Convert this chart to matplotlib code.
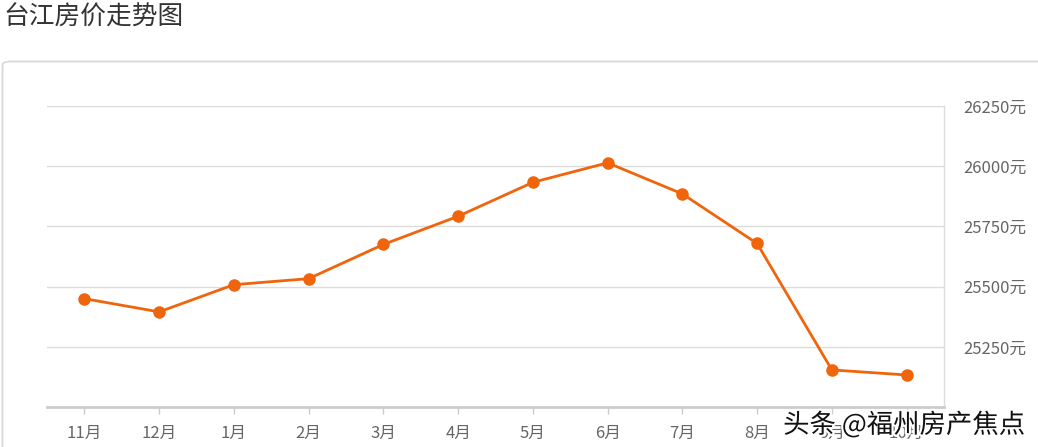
import matplotlib.pyplot as plt
import matplotlib.patheffects as pe
from matplotlib.patches import FancyBboxPatch

plt.rcParams['font.family'] = ['Noto Sans CJK SC', 'DejaVu Sans']

months = ['11月', '12月', '1月', '2月', '3月', '4月', '5月', '6月', '7月', '8月', '9月', '10月']
prices = [25450, 25395, 25508, 25533, 25675, 25792, 25933, 26014, 25885, 25679, 25154, 25133]
y_ticks = [25250, 25500, 25750, 26000, 26250]

W, H = 1038, 447
fig = plt.figure(figsize=(W / 100, H / 100), dpi=100)

# card border
card = FancyBboxPatch((2.5 / W, -0.1), 1.1, (H - 61.5) / H + 0.1,
                      boxstyle='round,pad=0,rounding_size=0.008',
                      transform=fig.transFigure, facecolor='white',
                      edgecolor='#d9d9d9', linewidth=1.3, zorder=-5)
fig.patches.append(card)

fig.text(3 / W, 1 - 18 / H, '台江房价走势图', fontsize=18.5, color='#333333',
         va='center', ha='left')

ax = fig.add_axes([47 / W, (H - 407) / H, (944 - 47) / W, (407 - 106) / H])
ax.set_zorder(2)
ax.set_facecolor('none')
x = range(len(months))
ax.plot(x, prices, color='#f0640c', linewidth=2.0, marker='o', markersize=8,
        zorder=3, clip_on=False)

ax.set_xlim(-0.5, len(months) - 0.5)
ax.set_ylim(25000, 26250)
ax.set_xticks(list(x))
ax.set_xticklabels(months)
ax.set_yticks(y_ticks)
ax.set_yticklabels([f'{v}元' for v in y_ticks])
ax.yaxis.tick_right()
ax.grid(axis='y', color='#dcdcdc', linewidth=1.0)
ax.set_axisbelow(True)

for s in ['top', 'left']:
    ax.spines[s].set_visible(False)
ax.spines['right'].set_color('#dcdcdc')
ax.spines['right'].set_linewidth(1.0)
ax.spines['bottom'].set_color('#cccccc')
ax.spines['bottom'].set_linewidth(2.0)

ax.tick_params(axis='x', colors='#cccccc', labelcolor='#666666', labelsize=12,
               length=5, width=1, pad=8)
ax.tick_params(axis='y', length=0, labelcolor='#666666', labelsize=12, pad=14)

fig.text(1025 / W, 1 - 425 / H, '头条 @福州房产焦点', fontsize=19, color='#111111',
         ha='right', va='center', weight='medium', zorder=10,
         path_effects=[pe.withStroke(linewidth=3, foreground='white')])

fig.savefig('out.png', dpi=100)
